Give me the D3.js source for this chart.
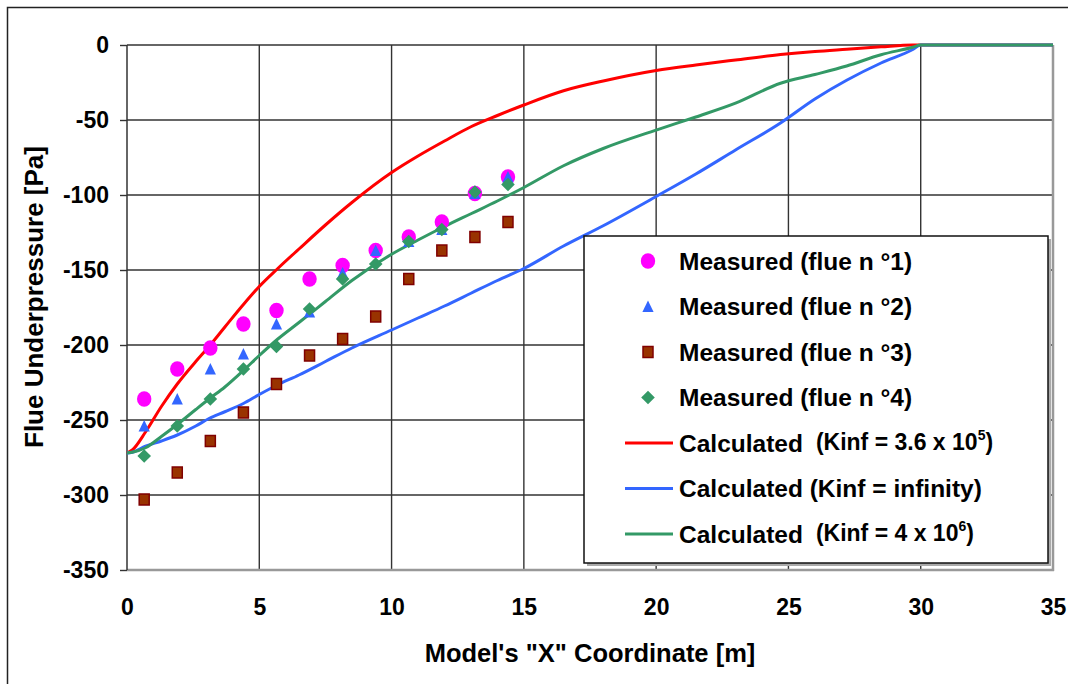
<!DOCTYPE html>
<html>
<head>
<meta charset="utf-8">
<script src="https://cdn.jsdelivr.net/npm/d3@7"></script>
<style>
  body { margin: 0; background: #fff; }
  svg text { font-family: "Liberation Sans", Arial, sans-serif; font-weight: bold; fill: #000; }
</style>
</head>
<body>
<div id="chart"></div>
<script>
// measured points (x in m, pressure in Pa)
const xMeasured = [0.65, 1.9, 3.15, 4.4, 5.65, 6.9, 8.15, 9.4, 10.65, 11.9, 13.15, 14.4];
const flue1 = [-236, -216, -202, -186, -177, -156, -147, -137, -128, -118, -99, -88];
const flue2 = [-254, -236, -216, -206, -186, -178, -152, -137, -131, -123, -99, -88];
const flue3 = [-303, -285, -264, -245, -226, -207, -196, -181, -156, -137, -128, -118];
const flue4 = [-274, -254, -236, -216, -201, -176, -156, -146, -131, -123, -98, -93];

// calculated curves
const xCalc = [0, 0.2, 0.7, 1.3, 1.9, 2.6, 3.1, 3.7, 4.4, 5, 5.7, 6.5, 7.5, 8.5, 10, 11, 12, 13, 14, 15,
  16.5, 18, 20, 21.5, 23, 24.7, 26, 27.2, 28.5, 29.7, 30, 32, 35];
const calcRed = [-272, -270, -258, -241, -226, -211, -201, -188, -173, -161, -149, -136, -120, -105, -85, -74, -64, -54.5, -47, -40,
  -30.5, -24, -17, -13.3, -10, -6.4, -4.3, -2.8, -1.2, 0, 0, 0, 0];
const calcBlue = [-272, -271.5, -267.5, -264, -260, -254, -249, -244.5, -239, -233, -226.5, -220, -211, -202, -190, -182, -174, -165.5, -157, -149,
  -134, -120.5, -101, -86, -70, -52, -36, -23.5, -12, -3, 0, 0, 0];
const calcGreen = [-272, -271.5, -268.5, -261, -253, -243, -236, -228, -217, -207, -196, -185, -171, -157, -139.5, -130, -121, -112.5, -104, -95,
  -80.5, -69, -56.7, -48, -38.8, -25.5, -19.7, -14, -6.5, -1.5, 0, 0, 0];

const xTicks = [0, 5, 10, 15, 20, 25, 30, 35];
const yTicks = [0, -50, -100, -150, -200, -250, -300, -350];

const legendLabels = [
  'Measured (flue n °1)', 'Measured (flue n °2)', 'Measured (flue n °3)', 'Measured (flue n °4)',
  'Calculated', 'Calculated (Kinf = infinity)', 'Calculated'
];

const w = 1068, h = 684;
const plotLeft = 127, plotRight = 1053, plotTop = 45, plotBottom = 570;

const magenta = '#FF00FF', blue = '#3366FF', brown = '#993300', green = '#339966', red = '#FF0000';

const svg = d3.select('#chart').append('svg')
  .attr('width', w)
  .attr('height', h);

// outer chart frame
svg.append('rect')
  .attr('x', 7.5).attr('y', 7.5)
  .attr('width', w + 10).attr('height', h + 10)
  .attr('fill', '#fff')
  .attr('stroke', '#222')
  .attr('stroke-width', 1.5);

const xScale = d3.scaleLinear().domain([0, 35]).range([plotLeft, plotRight]);
const yScale = d3.scaleLinear().domain([-350, 0]).range([plotBottom, plotTop]);

// grid
svg.append('g').selectAll('line')
  .data(xTicks.slice(1, -1))
  .enter().append('line')
  .attr('x1', (d) => xScale(d)).attr('x2', (d) => xScale(d))
  .attr('y1', plotTop).attr('y2', plotBottom)
  .attr('stroke', '#333').attr('stroke-width', 1.4);

svg.append('g').selectAll('line')
  .data(yTicks.slice(1, -1))
  .enter().append('line')
  .attr('x1', plotLeft).attr('x2', plotRight)
  .attr('y1', (d) => yScale(d)).attr('y2', (d) => yScale(d))
  .attr('stroke', '#333').attr('stroke-width', 1.4);

// plot frame: dark left/top, gray right/bottom
svg.append('line').attr('x1', plotRight).attr('x2', plotRight).attr('y1', plotTop).attr('y2', plotBottom + 1)
  .attr('stroke', '#999').attr('stroke-width', 2.5);
svg.append('line').attr('x1', plotLeft).attr('x2', plotRight + 1).attr('y1', plotBottom).attr('y2', plotBottom)
  .attr('stroke', '#999').attr('stroke-width', 2.5);
svg.append('line').attr('x1', plotLeft).attr('x2', plotRight).attr('y1', plotTop).attr('y2', plotTop)
  .attr('stroke', '#333').attr('stroke-width', 1.5);
svg.append('line').attr('x1', plotLeft).attr('x2', plotLeft).attr('y1', plotTop).attr('y2', plotBottom)
  .attr('stroke', '#333').attr('stroke-width', 1.5);

// axes (plain hyphen for negatives, like the original)
const yAxis = d3.axisLeft(yScale).tickValues(yTicks).tickSize(7).tickPadding(11)
  .tickFormat((d) => String(d));
const gy = svg.append('g').attr('transform', 'translate(' + plotLeft + ',0)').call(yAxis);
gy.select('.domain').remove();
gy.selectAll('.tick line').attr('stroke', '#333').attr('stroke-width', 1.4);
gy.selectAll('.tick text').style('font-size', '23px').attr('fill', '#000');

const xAxis = d3.axisBottom(xScale).tickValues(xTicks).tickSize(0).tickPadding(29)
  .tickFormat((d) => String(d));
const gx = svg.append('g').attr('transform', 'translate(0,' + plotBottom + ')').call(xAxis);
gx.select('.domain').remove();
gx.selectAll('.tick text').style('font-size', '23px').attr('fill', '#000');

// titles
svg.append('text')
  .attr('x', 590).attr('y', 662)
  .attr('text-anchor', 'middle')
  .style('font-size', '25.5px')
  .text('Model\'s "X" Coordinate [m]');

svg.append('text')
  .attr('transform', 'translate(43,297)rotate(-90)')
  .attr('text-anchor', 'middle')
  .style('font-size', '26px')
  .text('Flue Underpressure [Pa]');

// calculated lines
const line = d3.line()
  .x((d) => xScale(d[0]))
  .y((d) => yScale(d[1]))
  .curve(d3.curveMonotoneX);
[[calcRed, red], [calcBlue, blue], [calcGreen, green]].forEach(([vals, c]) => {
  svg.append('path')
    .datum(xCalc.map((x, i) => [x, vals[i]]))
    .attr('d', line)
    .attr('fill', 'none')
    .attr('stroke', c)
    .attr('stroke-width', 3)
    .attr('stroke-linejoin', 'round');
});

// marker shapes
const trianglePath = 'M0,-6 L5.6,5.6 L-5.6,5.6 Z';
function drawMarker(sel, kind) {
  if (kind === 0) {
    sel.append('ellipse').attr('rx', 7.2).attr('ry', 7.8).attr('fill', magenta);
  } else if (kind === 1) {
    sel.append('path').attr('d', trianglePath).attr('fill', blue);
  } else if (kind === 2) {
    sel.append('rect').attr('x', -5).attr('y', -5.5).attr('width', 10).attr('height', 11)
      .attr('fill', brown).attr('stroke', '#800000').attr('stroke-width', 1.5);
  } else {
    sel.append('rect').attr('x', -4.8).attr('y', -4.8).attr('width', 9.6).attr('height', 9.6)
      .attr('transform', 'rotate(45)').attr('fill', green);
  }
}

[flue1, flue2, flue3, flue4].forEach((vals, k) => {
  svg.append('g').selectAll('g')
    .data(xMeasured.map((x, i) => [x, vals[i]]))
    .enter().append('g')
    .attr('transform', (d) => 'translate(' + xScale(d[0]) + ',' + yScale(d[1]) + ')')
    .each(function() { drawMarker(d3.select(this), k); });
});

// legend
const lx = 584, ly = 236, lw = 464, lh = 327;
svg.append('rect').attr('x', lx + 3).attr('y', ly + 3).attr('width', lw).attr('height', lh).attr('fill', '#aaa');
svg.append('rect').attr('x', lx).attr('y', ly).attr('width', lw).attr('height', lh)
  .attr('fill', '#fff').attr('stroke', '#111').attr('stroke-width', 1.5);

const rowY = (i) => 261 + i * 45.5;
const lineColors = [red, blue, green];
legendLabels.forEach((label, i) => {
  const y = rowY(i);
  if (i < 4) {
    const g = svg.append('g').attr('transform', 'translate(648,' + y + ')');
    drawMarker(g, i);
  } else {
    svg.append('line').attr('x1', 625).attr('x2', 673).attr('y1', y).attr('y2', y)
      .attr('stroke', lineColors[i - 4]).attr('stroke-width', 3);
  }
  const t = svg.append('text')
    .attr('x', 679).attr('y', y + 8.5)
    .style('font-size', '24.5px')
    .text(label);
  if (i === 4 || i === 6) {
    const k = i === 4 ? '(Kinf = 3.6 x 10' : '(Kinf = 4 x 10';
    const p = i === 4 ? '5' : '6';
    t.append('tspan').attr('dx', 13).attr('dy', -2).style('font-size', '23px').text(k);
    t.append('tspan').attr('dy', -10).style('font-size', '14px').text(p);
    t.append('tspan').attr('dy', 10).style('font-size', '23px').text(')');
  }
});
</script>
</body>
</html>
